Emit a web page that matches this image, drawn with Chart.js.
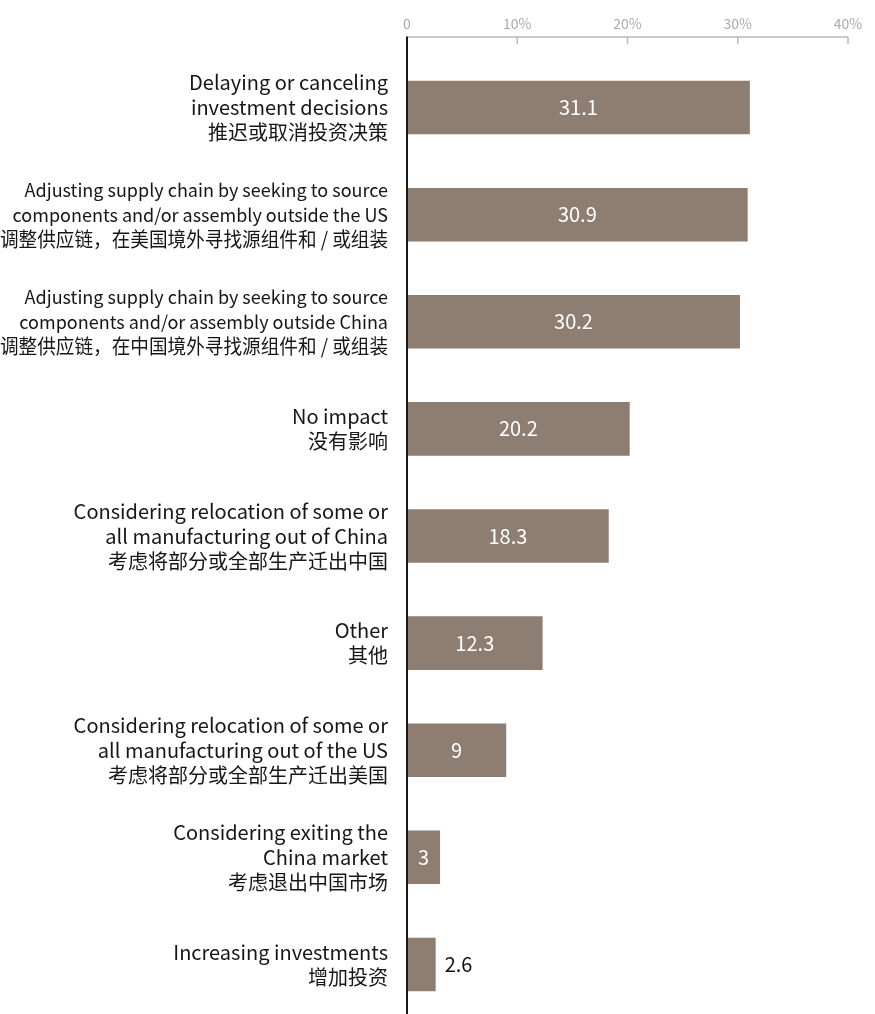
<!DOCTYPE html>
<html>
<head>
<meta charset="utf-8">
<script src="https://cdn.jsdelivr.net/npm/chart.js@4/dist/chart.umd.min.js"></script>
<style>
  html, body { margin: 0; padding: 0; background: #fff; overflow: hidden; }
  #wrap { position: relative; width: 875px; height: 1018px; }
</style>
</head>
<body>
<div id="wrap"><canvas id="impactChart"></canvas></div>
<script>
const categories = [
    ["Delaying or canceling", "investment decisions", "推迟或取消投资决策"],
    ["Adjusting supply chain by seeking to source", "components and/or assembly outside the US", "调整供应链，在美国境外寻找源组件和 / 或组装"],
    ["Adjusting supply chain by seeking to source", "components and/or assembly outside China", "调整供应链，在中国境外寻找源组件和 / 或组装"],
    ["No impact", "没有影响"],
    ["Considering relocation of some or", "all manufacturing out of China", "考虑将部分或全部生产迁出中国"],
    ["Other", "其他"],
    ["Considering relocation of some or", "all manufacturing out of the US", "考虑将部分或全部生产迁出美国"],
    ["Considering exiting the", "China market", "考虑退出中国市场"],
    ["Increasing investments", "增加投资"]
];
const shares = [31.1, 30.9, 30.2, 20.2, 18.3, 12.3, 9, 3, 2.6];
const xTicks = [0, 10, 20, 30, 40];

const FONT = "'Noto Sans CJK SC', 'Noto Sans', sans-serif";
const BAR_COLOR = '#8e7e72';
const TEXT_COLOR = '#161616';
const LINE_H = 25;

// value labels: white inside the bar, black to the right if it doesn't fit
const valueLabels = {
    id: 'valueLabels',
    afterDatasetsDraw(chart) {
        const ctx = chart.ctx;
        const meta = chart.getDatasetMeta(0);
        ctx.save();
        ctx.font = '20px ' + FONT;
        ctx.textBaseline = 'middle';
        meta.data.forEach((bar, i) => {
            const txt = String(shares[i]);
            const w = ctx.measureText(txt).width;
            const barW = bar.x - bar.base;
            if (w + 8 < barW) {
                ctx.fillStyle = '#ffffff';
                ctx.textAlign = 'center';
                ctx.fillText(txt, (bar.x + bar.base) / 2, bar.y);
            } else {
                ctx.fillStyle = '#111111';
                ctx.textAlign = 'left';
                ctx.fillText(txt, bar.x + 9, bar.y);
            }
        });
        ctx.restore();
    }
};

// category labels, right aligned against the zero line
const categoryLabels = {
    id: 'categoryLabels',
    afterDraw(chart) {
        const ctx = chart.ctx;
        const y = chart.scales.y;
        const right = chart.chartArea.left - 19;
        ctx.save();
        ctx.fillStyle = TEXT_COLOR;
        ctx.textAlign = 'right';
        ctx.textBaseline = 'middle';
        categories.forEach((lines, i) => {
            const cy = y.getPixelForTick(i);
            const top = cy - (lines.length - 1) * LINE_H / 2;
            // the long supply-chain labels are set a size smaller
            const longest = Math.max(...lines.map(l => l.length));
            const enSize = longest > 36 ? 18 : 20;
            lines.forEach((line, j) => {
                const cjk = /[\u4e00-\u9fff]/.test(line);
                ctx.font = (cjk ? 20 : enSize) + 'px ' + FONT;
                ctx.fillText(line, right, top + j * LINE_H, right);
            });
        });
        ctx.restore();
    }
};

// top axis line sits a bit above the plot; zero line runs down the left
const axisLines = {
    id: 'axisLines',
    afterDraw(chart) {
        const ctx = chart.ctx;
        const x = chart.scales.x;
        const lineY = chart.chartArea.top - 17;
        const x0 = x.getPixelForValue(0);
        const x40 = x.getPixelForValue(40);
        ctx.save();
        ctx.strokeStyle = '#b8b8b8';
        ctx.lineWidth = 1.5;
        ctx.beginPath();
        ctx.moveTo(x0, lineY);
        ctx.lineTo(x40, lineY);
        xTicks.slice(1).forEach(v => {
            const px = x.getPixelForValue(v);
            ctx.moveTo(px, lineY);
            ctx.lineTo(px, lineY + 7);
        });
        ctx.stroke();
        ctx.strokeStyle = '#1a1a1a';
        ctx.lineWidth = 2;
        ctx.beginPath();
        ctx.moveTo(x0, lineY - 0.5);
        ctx.lineTo(x0, chart.height);
        ctx.stroke();
        ctx.restore();
    }
};

const canvas = document.getElementById('impactChart');
const chart = new Chart(canvas.getContext('2d'), {
    type: 'bar',
    data: {
        labels: categories,
        datasets: [{
            data: shares,
            backgroundColor: BAR_COLOR,
            borderWidth: 0,
            barPercentage: 1,
            categoryPercentage: 0.5
        }]
    },
    options: {
        indexAxis: 'y',
        responsive: true,
        maintainAspectRatio: false,
        animation: false,
        layout: { padding: { top: 0, right: 27, bottom: 0, left: 0 } },
        plugins: {
            legend: { display: false },
            tooltip: { enabled: false }
        },
        scales: {
            x: {
                position: 'top',
                min: 0,
                max: 40,
                afterBuildTicks(scale) {
                    scale.ticks = xTicks.map(v => ({ value: v }));
                },
                afterFit(scale) {
                    scale.height = 54;
                    scale.paddingLeft = 0;
                    scale.paddingRight = 0;
                },
                grid: { display: false, drawTicks: false },
                border: { display: false },
                ticks: {
                    padding: 22,
                    color: '#aaaaaa',
                    font: { family: FONT, size: 14 },
                    callback: v => v === 0 ? '0' : v + '%'
                }
            },
            y: {
                afterFit(scale) {
                    scale.width = 407;
                    scale.paddingTop = 0;
                    scale.paddingBottom = 0;
                },
                grid: { display: false, drawTicks: false },
                border: { display: false },
                ticks: { display: false }
            }
        }
    },
    plugins: [valueLabels, categoryLabels, axisLines]
});
</script>
</body>
</html>
